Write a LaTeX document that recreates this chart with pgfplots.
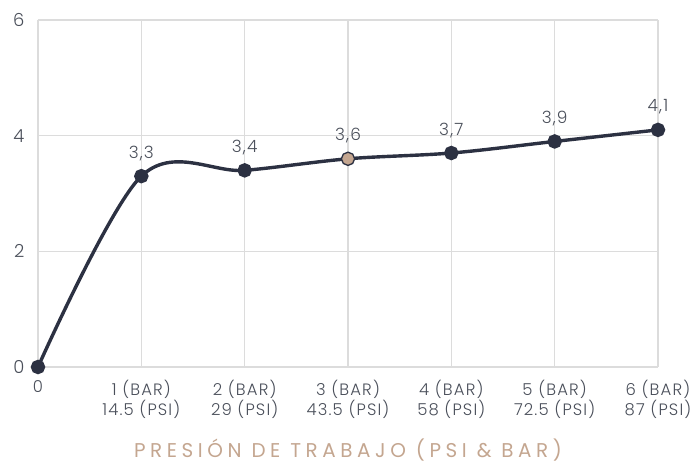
\documentclass[border=0pt]{standalone}
\usepackage{pgfplots}
\pgfplotsset{compat=1.18}
\usepackage{fontspec}
\setmainfont{Poppins}[UprightFont=* Light, LetterSpace=7]
\newfontfamily\xlfont{Poppins}[LetterSpace=23]
\definecolor{navy}{HTML}{2C3142}
\definecolor{tan}{HTML}{C4A690}
\definecolor{gridc}{HTML}{DCDCDC}
\definecolor{txt}{HTML}{4A4F5A}
\begin{document}
\begin{tikzpicture}
\begin{axis}[
  scale only axis,
  width=620bp, height=347bp,
  xmin=0, xmax=6, ymin=0, ymax=6,
  xtick={0,1,2,3,4,5,6},
  xticklabels={0,{1 (BAR)\\14.5 (PSI)},{2 (BAR)\\29 (PSI)},{3 (BAR)\\43.5 (PSI)},{4 (BAR)\\58 (PSI)},{5 (BAR)\\72.5 (PSI)},{6 (BAR)\\87 (PSI)}},
  ytick={0,2,4,6},
  xticklabel style={align=center, font=\fontsize{16.5}{20}\selectfont, text=txt},
  yticklabel style={font=\fontsize{18}{20}\selectfont, text=txt},
  /pgf/number format/assume math mode=true,
  grid=major,
  grid style={gridc, line width=1.2bp},
  axis line style={draw=none},
  major tick length=0pt,
  xticklabel shift=10bp,
  yticklabel shift=10bp,
  xlabel={PRESIÓN DE TRABAJO (PSI \& BAR)},
  xlabel style={font=\xlfont\fontsize{20}{22}\selectfont, text=tan, inner sep=0pt, yshift=-16.5bp},
  clip=false,
]
\addplot[navy, line width=3.4bp, smooth, tension=0.55, mark=*, mark size=5.5bp, mark options={fill=navy, draw=navy}]
  coordinates {(0,0) (1,3.3) (2,3.4) (3,3.6) (4,3.7) (5,3.9) (6,4.1)};
\addplot[only marks, mark=none,
  nodes near coords={\pgfmathprintnumber[fixed, precision=1, use comma]{\pgfplotspointmeta}},
  point meta=y,
  every node near coord/.append style={font=\fontsize{17}{20}\selectfont, text=txt, yshift=12bp},
  ] coordinates {(1,3.3) (2,3.4) (3,3.6) (4,3.7) (5,3.9) (6,4.1)};
\addplot[only marks, mark=*, mark size=5.5bp, mark options={fill=tan, draw=tan}] coordinates {(3,3.6)};
\end{axis}
\pgfresetboundingbox
\useasboundingbox ([xshift=-38bp,yshift=-99bp]current axis.south west) rectangle ([xshift=37bp,yshift=20bp]current axis.north east);
\end{tikzpicture}
\end{document}
